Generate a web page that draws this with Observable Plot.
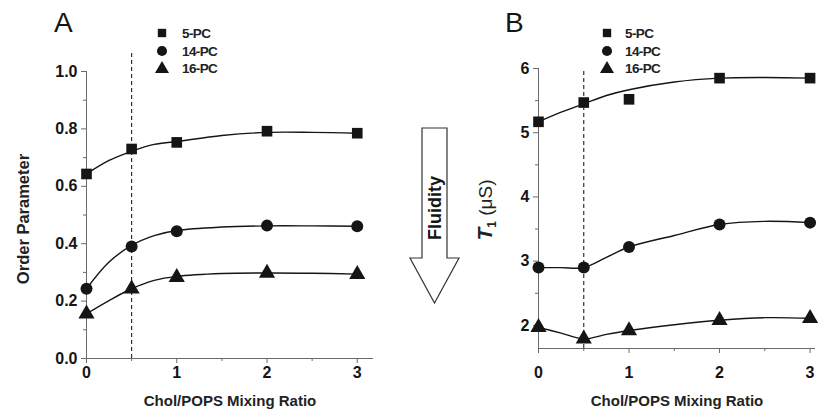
<!DOCTYPE html>
<html><head><meta charset="utf-8">
<script src="https://cdn.jsdelivr.net/npm/d3@7"></script>
<script src="https://cdn.jsdelivr.net/npm/@observablehq/plot@0.6"></script>
<style>
body{margin:0;background:#fff;}
#wrap{position:relative;width:822px;height:420px;overflow:hidden;background:#fff;}
#wrap > svg{position:absolute;top:0;}
</style></head><body><div id="wrap"></div>
<script>
// ---- data: measured points ----
const ratios = [0, 0.5, 1, 2, 3];
const seriesNames = ["5-PC", "14-PC", "16-PC"];
const seriesSymbols = ["square", "circle", "triangle"];
const orderP5 = [0.643, 0.73, 0.753, 0.792, 0.785];
const orderP14 = [0.243, 0.39, 0.443, 0.463, 0.461];
const orderP16 = [0.156, 0.243, 0.283, 0.298, 0.293];
const t1P5 = [5.17, 5.47, 5.52, 5.85, 5.85];
const t1P14 = [2.90, 2.90, 3.22, 3.57, 3.60];
const t1P16 = [1.97, 1.79, 1.92, 2.08, 2.11];
// ---- data: fitted curves ----
const fitRatios = [0, 0.25, 0.5, 0.75, 1, 1.5, 2, 2.5, 3];
const fitA5 = [0.643, 0.69, 0.722, 0.746, 0.756, 0.777, 0.788, 0.788, 0.785];
const fitA14 = [0.243, 0.336, 0.394, 0.428, 0.446, 0.458, 0.462, 0.462, 0.461];
const fitA16 = [0.156, 0.202, 0.243, 0.272, 0.286, 0.296, 0.298, 0.297, 0.294];
const fitB5 = [5.17, 5.32, 5.45, 5.58, 5.67, 5.79, 5.85, 5.86, 5.85];
const fitB14 = [2.90, 2.90, 2.90, 3.06, 3.22, 3.40, 3.57, 3.62, 3.60];
const fitB16 = [1.97, 1.88, 1.79, 1.86, 1.92, 2.01, 2.08, 2.12, 2.11];
// ---- ticks ----
const yTicksA = [0, 0.2, 0.4, 0.6, 0.8, 1.0];
const yMinorA = [0.1, 0.3, 0.5, 0.7, 0.9];
const yTicksB = [2, 3, 4, 5, 6];
const yMinorB = [2.5, 3.5, 4.5, 5.5];
const xTicks = [0, 1, 2, 3];
const xMinor = [0.5, 1.5, 2.5];
const dashX = 0.5;
const xLabel = "Chol/POPS Mixing Ratio";

const rows = (xs, vals, s) => xs.map((x, i) => ({x, y: vals[i], s}));
const ptsA = [...rows(ratios, orderP5, "5-PC"), ...rows(ratios, orderP14, "14-PC"), ...rows(ratios, orderP16, "16-PC")];
const ptsB = [...rows(ratios, t1P5, "5-PC"), ...rows(ratios, t1P14, "14-PC"), ...rows(ratios, t1P16, "16-PC")];
const fitA = [...rows(fitRatios, fitA5, "5-PC"), ...rows(fitRatios, fitA14, "14-PC"), ...rows(fitRatios, fitA16, "16-PC")];
const fitB = [...rows(fitRatios, fitB5, "5-PC"), ...rows(fitRatios, fitB14, "14-PC"), ...rows(fitRatios, fitB16, "16-PC")];

const FONT = "'Liberation Sans', Arial, sans-serif";
const AX = "#6a6a6a";
const INK = "#151515";

function panel(o) {
  return Plot.plot({
    width: 411, height: 420,
    marginLeft: o.ml, marginRight: o.mr, marginTop: o.mt, marginBottom: o.mb,
    style: {fontFamily: FONT, fontSize: "16px", fontWeight: "bold", color: INK, background: "transparent", overflow: "visible"},
    x: {domain: o.xDomain},
    y: {domain: o.yDomain},
    symbol: {domain: seriesNames, range: seriesSymbols},
    marks: [
      Plot.ruleX([0], {y1: o.yDomain[0], y2: o.yTicks[o.yTicks.length - 1], stroke: AX}),
      Plot.ruleY([o.yDomain[0]], {x1: o.xDomain[0], x2: o.xDomain[1], stroke: AX}),
      Plot.axisY(o.yTicks, {tickSize: 5, tickPadding: 4, tickFormat: o.yFormat, stroke: AX, fill: INK, label: null}),
      Plot.axisY(o.yMinor, {tickSize: 3, tickFormat: () => "", stroke: AX, label: null}),
      Plot.axisX(xTicks, {tickSize: 5, tickPadding: o.xPad, tickFormat: d3.format("d"), stroke: AX, fill: INK, label: null}),
      Plot.axisX(xMinor, {tickSize: 3, tickFormat: () => "", stroke: AX, label: null}),
      Plot.ruleX([dashX], {y1: o.yDomain[0], y2: o.dashTop, stroke: "#222", strokeDasharray: "4,3", strokeWidth: 1.1, clip: false}),
      Plot.line(o.fits, {x: "x", y: "y", z: "s", curve: "catmull-rom", stroke: INK, strokeWidth: 1.4}),
      Plot.dot(o.pts, {x: "x", y: "y", symbol: "s", fill: INK, stroke: "none", r: 6}),
      Plot.axisX({ticks: [], label: xLabel, labelArrow: "none", labelAnchor: "center", labelOffset: o.xLabOff, fontSize: 15, fill: "#222"})
    ]
  });
}

const svgA = panel({ml: 86, mr: 38, mt: 71, mb: 62, xDomain: [0, 3.18], yDomain: [0, 1],
  yTicks: yTicksA, yMinor: yMinorA, yFormat: d3.format(".1f"), dashTop: 1.063,
  pts: ptsA, fits: fitA, xPad: 3, xLabOff: 47});
const svgB = panel({ml: 127, mr: 7, mt: 68, mb: 72, xDomain: [0, 3.06], yDomain: [1.64, 6],
  yTicks: yTicksB, yMinor: yMinorB, yFormat: d3.format("d"), dashTop: 6,
  pts: ptsB, fits: fitB, xPad: 13, xLabOff: 57});
svgA.style.left = "0px";
svgB.style.left = "411px";
const wrap = document.getElementById("wrap");
wrap.appendChild(svgA);
wrap.appendChild(svgB);

// ---- annotation overlay: titles, legends, axis titles, arrow ----
const ov = d3.create("svg").attr("width", 822).attr("height", 420)
  .style("left", "0px").style("font-family", FONT).style("pointer-events", "none");

ov.append("text").attr("x", 54).attr("y", 32).attr("font-size", 28).attr("fill", INK).text("A");
ov.append("text").attr("x", 505).attr("y", 32).attr("font-size", 28).attr("fill", INK).text("B");

function legend(mx, tx) {
  const ys = [33, 51, 68];
  seriesNames.forEach((name, i) => {
    const sym = [d3.symbolSquare, d3.symbolCircle, d3.symbolTriangle][i];
    const size = [70, 80, 85][i];
    ov.append("path").attr("d", d3.symbol(sym, size)()).attr("transform", `translate(${mx},${ys[i] + (i === 2 ? 1 : 0)})`).attr("fill", INK);
    ov.append("text").attr("x", tx).attr("y", ys[i]).attr("dy", "0.36em").attr("font-size", 13.5)
      .attr("font-weight", "bold").attr("letter-spacing", "-0.6").attr("fill", "#222").text(name);
  });
}
legend(162, 182);
legend(607, 625);

ov.append("text").attr("transform", "translate(23,219) rotate(-90)").attr("text-anchor", "middle")
  .attr("dy", "0.36em").attr("font-size", 16.5).attr("font-weight", "bold").attr("fill", "#222").text("Order Parameter");

const t1 = ov.append("text").attr("transform", "translate(486,210) rotate(-90)").attr("text-anchor", "middle")
  .attr("dy", "0.36em").attr("fill", "#222");
t1.append("tspan").attr("font-size", 21).attr("font-weight", "bold").attr("font-style", "italic").text("T");
t1.append("tspan").attr("font-size", 12).attr("font-weight", "bold").attr("dy", "4").text("1");
t1.append("tspan").attr("font-size", 19).attr("dy", "-4").text(" (\u03bcS)");

ov.append("polygon")
  .attr("points", "422,128 447,128 447,258 459,258 434.5,303 410,258 422,258")
  .attr("fill", "#fff").attr("stroke", "#333").attr("stroke-width", 1.2);
ov.append("text").attr("transform", "translate(435,208) rotate(-90)").attr("text-anchor", "middle")
  .attr("dy", "0.36em").attr("font-size", 18).attr("font-weight", "bold").attr("fill", INK).text("Fluidity");

wrap.appendChild(ov.node());
</script></body></html>
